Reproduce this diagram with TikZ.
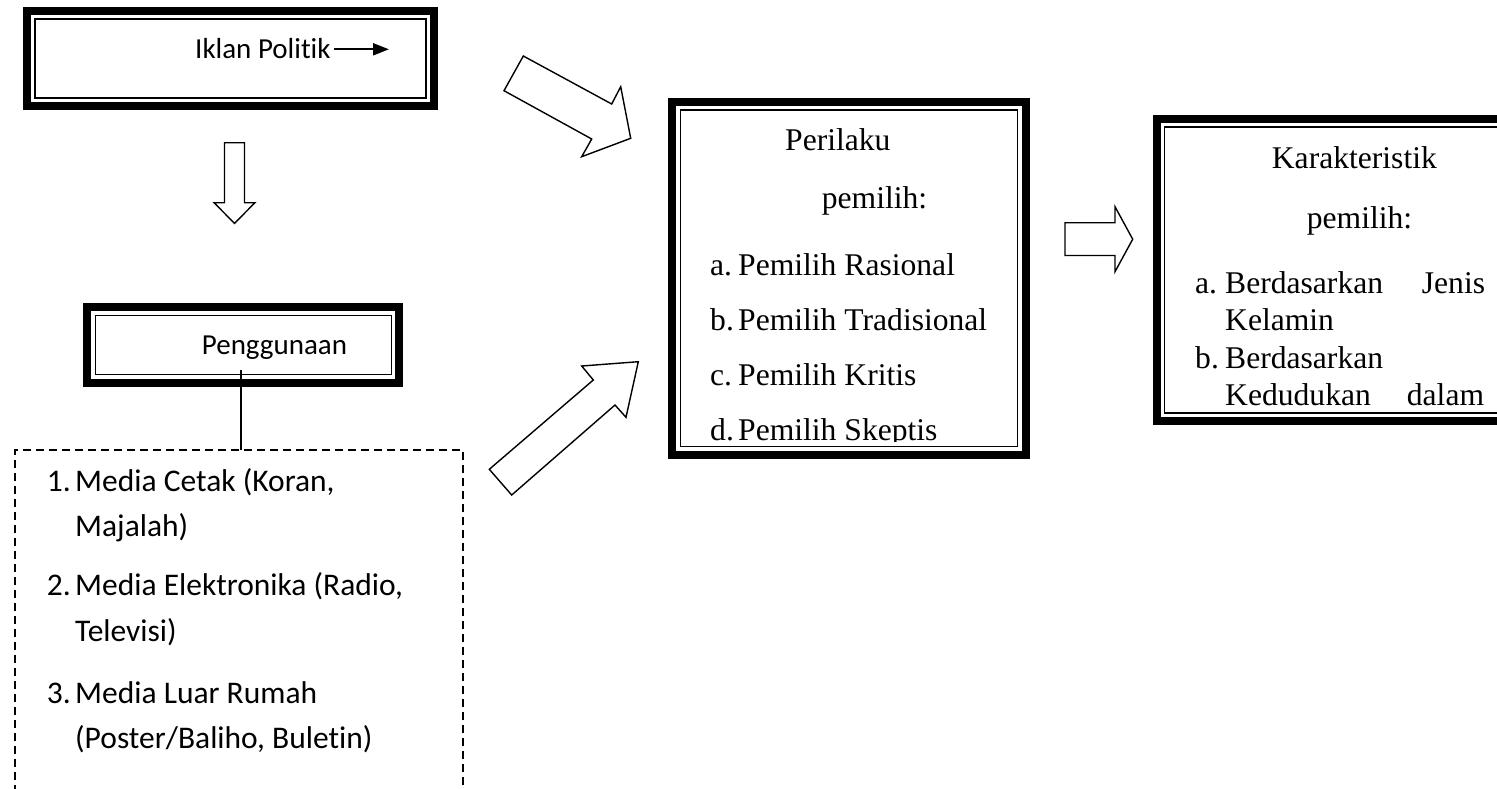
\documentclass[tikz,border=0pt]{standalone}
\usepackage{fontspec}
\setmainfont{Liberation Serif}
\newfontfamily\calfont[Ligatures=NoCommon]{Carlito}
\usetikzlibrary{arrows.meta}
\begin{document}
\begin{tikzpicture}[x=1pt,y=-1pt,
  outerbox/.style={draw, line width=8pt, fill=white, inner sep=0pt, outer sep=0pt},
  innerline/.style={draw, line width=1.5pt},
  blockarrow/.style={draw, line width=1.4pt, fill=white, line join=miter},
  ctxt/.style={anchor=base west, inner sep=0pt, font=\calfont\fontsize{29}{35}\selectfont},
  ltxt/.style={anchor=base west, inner sep=0pt, font=\calfont\fontsize{31.5}{37}\selectfont},
  ttxt/.style={anchor=base west, inner sep=0pt, font=\fontsize{31.6}{37}\selectfont},
  dashbox/.style={draw, line width=1.5pt, dash pattern=on 8pt off 5pt, inner sep=0pt, outer sep=0pt},
]
\useasboundingbox (0,0) rectangle (1497,788);
\clip (0,0) rectangle (1497,788);
\fill[white] (0,0) rectangle (1497,788);

% Box 1: Iklan Politik
\node[outerbox, minimum width=407pt, minimum height=95pt] (iklanbox) at (230.5,58.5) {};
\draw[innerline] ([xshift=8pt,yshift=-8pt]iklanbox.north west) rectangle ([xshift=-8pt,yshift=8pt]iklanbox.south east);
\node[ctxt] (iklan) at (195,58.3) {Iklan Politik};
\coordinate (ia) at (334,49.3);
\coordinate (ib) at (389,49.3);
\draw[line width=2pt,-{Triangle[length=16pt,width=12pt]}] (ia) -- (ib);

% Down block arrow
\draw[blockarrow] (224.5,142.7) -- (244.5,142.7) -- (244.5,202.7) -- (255,202.7) -- (234.5,223.3) -- (214,202.7) -- (224.5,202.7) -- cycle;

% Box 2: Penggunaan
\node[outerbox, minimum width=312pt, minimum height=75.4pt] (pengbox) at (243.3,345) {};
\draw[innerline] ([xshift=8pt,yshift=-8pt]pengbox.north west) rectangle ([xshift=-8pt,yshift=8pt]pengbox.south east);
\node[ctxt] (peng) at (201.7,354) {Penggunaan};

% Dashed media box
\node[dashbox, minimum width=448pt, minimum height=420pt, anchor=north west] (media) at (15,450) {};
\coordinate (pl) at (241,370);
\draw[line width=1.5pt] (pl) -- (pl |- media.north);

\node[ltxt] (n1) at (46.7,491.7) {1.};
\node[ltxt] (m1) at (75,491.7) {Media Cetak (Koran,};
\node[ltxt] (m1b) at (75,536.7) {Majalah)};
\node[ltxt] (n2) at (46.7,595) {2.};
\node[ltxt] (m2) at (75,595) {Media Elektronika (Radio,};
\node[ltxt] (m2b) at (75,641.7) {Televisi)};
\node[ltxt] (n3) at (46.7,703.3) {3.};
\node[ltxt] (m3) at (75,703.3) {Media Luar Rumah};
\node[ltxt] (m3b) at (75,748.3) {(Poster/Baliho, Buletin)};

% Diagonal block arrows
\draw[blockarrow] (523.3,56) -- (611.7,104) -- (620.7,86.7) -- (630.7,138.3) -- (581.7,156.7) -- (591.7,139) -- (504,90.7) -- cycle;
\draw[blockarrow] (489.3,469.3) -- (593.3,380) -- (581.7,366) -- (638.3,361.7) -- (626,417.3) -- (615,405) -- (511.7,495) -- cycle;

% Box 3: Perilaku pemilih
\node[outerbox, minimum width=354pt, minimum height=353.5pt] (perbox) at (849,278.25) {};
\draw[innerline] ([xshift=8.5pt,yshift=-8.5pt]perbox.north west) rectangle ([xshift=-8.5pt,yshift=8.5pt]perbox.south east);
\begin{scope}
\clip ([xshift=10pt,yshift=-10pt]perbox.north west) rectangle ([xshift=-10pt,yshift=14pt]perbox.south east);
\node[ttxt] (per1) at (785,150) {Perilaku};
\node[ttxt] (per2) at (821.7,208.3) {pemilih:};
\node[ttxt] (pa) at (710,275) {a.};
\node[ttxt] (pat) at (738,275) {Pemilih Rasional};
\node[ttxt] (pb) at (710,330) {b.};
\node[ttxt] (pbt) at (738,330) {Pemilih Tradisional};
\node[ttxt] (pc) at (710,385) {c.};
\node[ttxt] (pct) at (738,385) {Pemilih Kritis};
\node[ttxt] (pd) at (710,440) {d.};
\node[ttxt] (pdt) at (738,440) {Pemilih Skeptis};
\end{scope}

% Right block arrow
\draw[blockarrow] (1065,222.7) -- (1115,222.7) -- (1115,206.7) -- (1132.7,239.2) -- (1115,271.7) -- (1115,255.5) -- (1065,255.5) -- cycle;

% Box 4: Karakteristik pemilih
\node[outerbox, minimum width=369.3pt, minimum height=302pt] (karbox) at (1341.35,270) {};
\draw[innerline] ([xshift=8pt,yshift=-8pt]karbox.north west) rectangle ([xshift=-8pt,yshift=8pt]karbox.south east);
\node[ttxt] (k1) at (1271.7,168.3) {Karakteristik};
\node[ttxt] (k2) at (1306.7,228.3) {pemilih:};
\node[ttxt] (ka) at (1195,293.3) {a.};
\node[ttxt] (kat) at (1225,293.3) {Berdasarkan};
\node[ttxt] (kat2) at (1421.7,293.3) {Jenis};
\node[ttxt] (kat3) at (1225,330) {Kelamin};
\node[ttxt] (kb) at (1195,368.3) {b.};
\node[ttxt] (kbt) at (1225,368.3) {Berdasarkan};
\node[ttxt] (kbt2) at (1225,405) {Kedudukan};
\node[ttxt] (kbt3) at (1406.7,405) {dalam};
\end{tikzpicture}
\end{document}
